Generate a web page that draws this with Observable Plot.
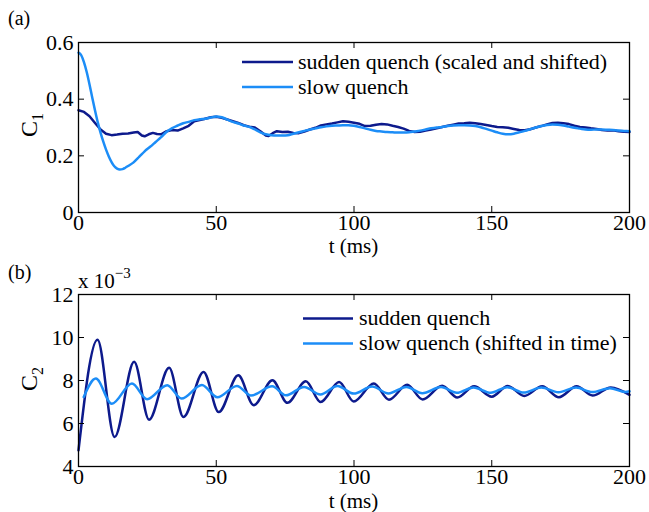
<!DOCTYPE html>
<html>
<head>
<meta charset="utf-8">
<script src="https://cdn.jsdelivr.net/npm/d3@7"></script>
<script src="https://cdn.jsdelivr.net/npm/@observablehq/plot@0.6"></script>
<style>
  body { margin: 0; background: #fff; }
  #wrap { position: relative; width: 649px; height: 512px; overflow: hidden; background: #fff; }
  .panel { position: absolute; left: 0; }
  #overlay { position: absolute; left: 0; top: 0; pointer-events: none; }
</style>
</head>
<body>
<div id="wrap"></div>
<script>
// ---------- DATA ----------
// Panel (a): C1, sudden quench (scaled and shifted)
const c1SuddenT = [0,2,4,6,8,10,12,14,16,18,20,21.5,23,24,25.5,27,28.5,30,32,34,36,38,40,42,44,46,48,50,52,54,56,58,60,62,64,66,68,69,70.5,72,74,76,78,80,82,84,86,88,90,92,94,96,98,100,102,104,106,108,110,112,114,116,118,120,122,124,126,128,130,132,134,136,138,140,142,144,146,148,150,152,154,156,158,160,162,164,166,168,170,172,174,176,178,180,182,184,186,188,190,192,194,196,198,200];
const c1SuddenV = [0.361,0.355,0.340,0.316,0.293,0.278,0.273,0.275,0.278,0.279,0.282,0.284,0.272,0.269,0.276,0.281,0.277,0.276,0.287,0.291,0.289,0.297,0.306,0.322,0.326,0.331,0.336,0.338,0.334,0.328,0.322,0.316,0.308,0.303,0.300,0.287,0.272,0.270,0.280,0.287,0.284,0.285,0.281,0.280,0.286,0.293,0.299,0.307,0.311,0.314,0.318,0.322,0.320,0.317,0.313,0.305,0.306,0.310,0.312,0.311,0.306,0.302,0.296,0.288,0.284,0.285,0.289,0.293,0.297,0.302,0.306,0.310,0.314,0.315,0.317,0.315,0.312,0.309,0.305,0.302,0.301,0.299,0.295,0.291,0.290,0.294,0.300,0.305,0.311,0.316,0.317,0.315,0.312,0.306,0.302,0.300,0.297,0.295,0.291,0.289,0.290,0.287,0.285,0.284];
// Panel (a): C1, slow quench
const c1SlowT = [0,1,2,3,4,5,6,7,8,9,10,11,12,13,14,15,16,17,18,20,22,24,26,28,30,32,34,36,38,40,42,44,46,48,50,52,54,56,58,60,62,64,66,68,70,72,74,76,78,80,82,84,86,88,90,92,94,96,98,100,102,104,106,108,110,112,114,116,118,120,122,124,126,128,130,132,134,136,138,140,142,144,146,148,150,152,154,156,158,160,162,164,166,168,170,172,174,176,178,180,182,184,186,188,190,192,194,196,198,200];
const c1SlowV = [0.564,0.555,0.530,0.495,0.452,0.405,0.360,0.318,0.282,0.250,0.222,0.198,0.178,0.163,0.155,0.152,0.153,0.158,0.164,0.177,0.196,0.216,0.232,0.249,0.266,0.285,0.298,0.307,0.315,0.320,0.326,0.329,0.331,0.335,0.339,0.336,0.328,0.320,0.314,0.307,0.302,0.293,0.283,0.276,0.273,0.272,0.272,0.273,0.278,0.283,0.288,0.293,0.297,0.301,0.304,0.306,0.307,0.308,0.308,0.306,0.302,0.297,0.292,0.288,0.286,0.284,0.283,0.282,0.282,0.283,0.286,0.289,0.293,0.297,0.300,0.302,0.305,0.307,0.308,0.308,0.307,0.305,0.301,0.295,0.289,0.283,0.278,0.276,0.278,0.283,0.288,0.294,0.300,0.305,0.309,0.311,0.310,0.307,0.303,0.299,0.296,0.293,0.292,0.293,0.293,0.292,0.291,0.289,0.288,0.287];
// Panel (b): C2 (x 10^-3), sudden quench  (turning points)
const c2SuddenT = [0,6.9,13.1,20.2,25.6,32.9,38.1,45.4,50.9,58.0,63.6,70.4,75.8,82.5,87.9,94.6,99.9,107.2,112.7,119.3,124.9,132.0,137.5,143.6,150.0,155.8,161.8,168.3,174.4,180.8,186.6,193.2,200];
const c2SuddenV = [4.75,9.90,5.37,8.87,6.18,8.59,6.30,8.40,6.53,8.24,6.85,8.01,6.96,7.96,7.00,7.93,7.02,7.86,7.11,7.80,7.12,7.76,7.21,7.73,7.25,7.75,7.28,7.73,7.22,7.73,7.30,7.68,7.33];
// Panel (b): C2 (x 10^-3), slow quench (shifted in time)  (turning points)
const c2SlowT = [1.9,6.3,12.1,19.4,24.9,32.2,37.4,44.8,50.4,57.5,62.6,70.3,75.3,81.9,87.8,94.0,99.9,106.6,112.5,119.0,124.8,131.6,137.3,143.4,149.6,155.6,161.6,168.0,174.2,180.6,186.5,192.9,198.5,200];
const c2SlowV = [7.23,8.09,6.92,7.86,7.13,7.78,7.16,7.79,7.22,7.75,7.30,7.73,7.31,7.70,7.35,7.74,7.39,7.72,7.40,7.70,7.41,7.70,7.43,7.68,7.43,7.69,7.44,7.67,7.45,7.67,7.46,7.64,7.47,7.50];

const xTicks = [0, 50, 100, 150, 200];
const c1Ticks = [0, 0.2, 0.4, 0.6];
const c2Ticks = [4, 6, 8, 10, 12];
const legendA = ["sudden quench (scaled and shifted)", "slow quench"];
const legendB = ["sudden quench", "slow quench (shifted in time)"];
const xLabel = "t (ms)";

// ---------- STYLE ----------
const DARK = "#0d1a8c";
const LIGHT = "#1c8df7";
const FONT = "'Liberation Serif', 'Times New Roman', serif";
const W = 649;

function panel({yDomain, yTicks, series, top, height, mt, mb}) {
  const ml = 78, mr = 20;
  const fw = W - ml - mr, fh = height - mt - mb, tk = 6;
  const marks = [];
  for (const s of series) {
    marks.push(Plot.line(s.t, {x: s.t, y: s.v, stroke: s.color, strokeWidth: 2.5, curve: s.curve}));
  }
  marks.push(
    Plot.ruleX(xTicks, {insetTop: fh - tk, stroke: "black", strokeWidth: 1}),
    Plot.ruleX(xTicks, {insetBottom: fh - tk, stroke: "black", strokeWidth: 1}),
    Plot.ruleY(yTicks, {insetRight: fw - tk, stroke: "black", strokeWidth: 1}),
    Plot.ruleY(yTicks, {insetLeft: fw - tk, stroke: "black", strokeWidth: 1}),
    Plot.frame({stroke: "black", strokeWidth: 1.3}),
    Plot.axisX({ticks: xTicks, tickSize: 0, tickPadding: 2, label: null, tickFormat: d => String(d)}),
    Plot.axisY({ticks: yTicks, tickSize: 0, tickPadding: 5, label: null, tickFormat: d => String(d)})
  );
  const svg = Plot.plot({
    width: W, height,
    marginLeft: ml, marginRight: mr, marginTop: mt, marginBottom: mb,
    x: {domain: [0, 200]},
    y: {domain: yDomain},
    style: {fontFamily: FONT, fontSize: "22px", color: "black", background: "transparent", overflow: "visible"},
    marks
  });
  svg.classList.add("panel");
  svg.style.top = top + "px";
  return svg;
}

const wrap = document.getElementById("wrap");
wrap.appendChild(panel({
  yDomain: [0, 0.6], yTicks: c1Ticks, top: 0, height: 256, mt: 42, mb: 44,
  series: [
    {t: c1SuddenT, v: c1SuddenV, color: DARK, curve: "linear"},
    {t: c1SlowT, v: c1SlowV, color: LIGHT, curve: "monotone-x"}
  ]
}));
wrap.appendChild(panel({
  yDomain: [4, 12], yTicks: c2Ticks, top: 256, height: 256, mt: 38, mb: 46,
  series: [
    {t: c2SuddenT, v: c2SuddenV, color: DARK, curve: "monotone-x"},
    {t: c2SlowT, v: c2SlowV, color: LIGHT, curve: "monotone-x"}
  ]
}));

// ---------- ANNOTATIONS (labels, legends) ----------
const ov = d3.select(wrap).append("svg")
  .attr("id", "overlay").attr("width", W).attr("height", 512)
  .attr("font-family", FONT).attr("fill", "black");

ov.append("text").attr("x", 8).attr("y", 25).attr("font-size", 20).text("(a)");
ov.append("text").attr("x", 8).attr("y", 279).attr("font-size", 20).text("(b)");

ov.append("text").attr("x", 353.5).attr("y", 253).attr("font-size", 21).attr("text-anchor", "middle").text(xLabel);
ov.append("text").attr("x", 353.5).attr("y", 508).attr("font-size", 21).attr("text-anchor", "middle").text(xLabel);

function ylab(cx, cy, sub) {
  const t = ov.append("text").attr("transform", `translate(${cx},${cy}) rotate(-90)`)
    .attr("text-anchor", "middle").attr("font-size", 24);
  t.append("tspan").text("C");
  t.append("tspan").attr("font-size", 16).attr("dy", 6).text(sub);
}
ylab(37, 125, "1");
ylab(37, 379, "2");

const ex = ov.append("text").attr("x", 78).attr("y", 288).attr("font-size", 21);
ex.append("tspan").text("x 10");
ex.append("tspan").attr("font-size", 15).attr("dy", -10).text("\u22123");

function legend(x0, x1, tx, ys, labels) {
  const colors = [DARK, LIGHT];
  labels.forEach((lab, i) => {
    ov.append("line").attr("x1", x0).attr("x2", x1).attr("y1", ys[i]).attr("y2", ys[i])
      .attr("stroke", colors[i]).attr("stroke-width", 2.5);
    ov.append("text").attr("x", tx).attr("y", ys[i] + 6.5).attr("font-size", 22).text(lab);
  });
}
legend(242, 293, 298, [62, 87], legendA);
legend(303, 353, 359, [318.5, 343.5], legendB);
</script>
</body>
</html>
